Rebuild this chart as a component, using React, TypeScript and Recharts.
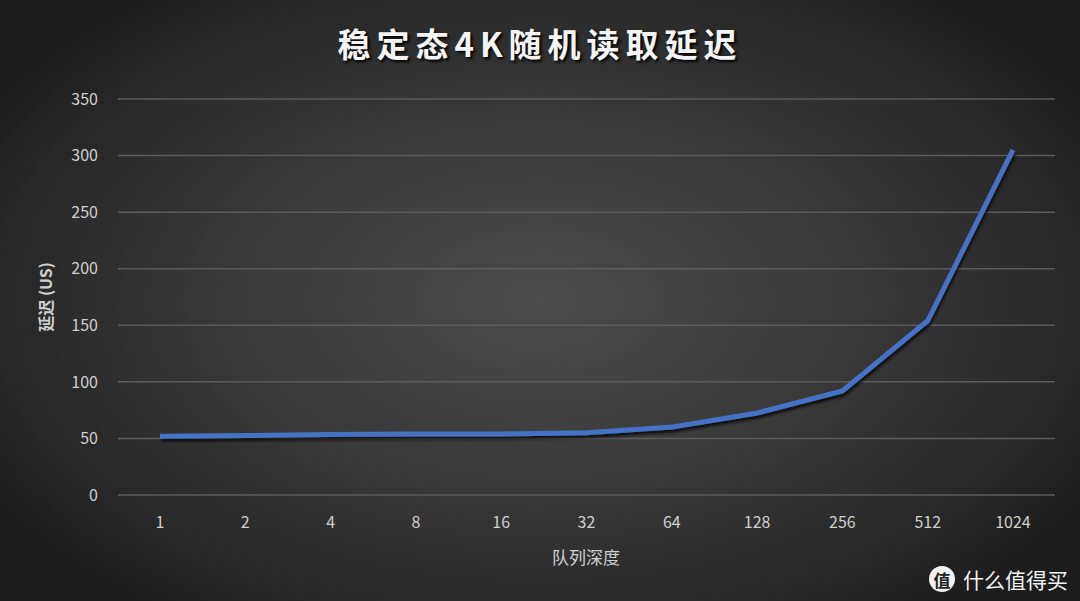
import React from 'react';
import { CartesianGrid, Line, LineChart, XAxis, YAxis } from 'recharts';

// queue depth categories and latency (us)
const queueDepths = ['1', '2', '4', '8', '16', '32', '64', '128', '256', '512', '1024'];
const latencyValues = [52, 52.5, 53.5, 54, 54, 55, 60, 72.5, 92, 154, 305];
const yTicks = [0, 50, 100, 150, 200, 250, 300, 350];

const chartData = queueDepths.map((q, i) => ({ name: q, latency: latencyValues[i] }));

const font = '"Noto Sans CJK SC", "Noto Sans", sans-serif';
const tickStyle = { fill: '#d0d0d0', fontSize: 16, fontFamily: font };

export default function App() {
    return (
        <div
            style={{
                position: 'absolute',
                left: 0,
                top: 0,
                width: 1080,
                height: 601,
                overflow: 'hidden',
                fontFamily: font,
                background:
                    'radial-gradient(ellipse 60% 65% at 50% 50%, #4b4b4b 0%, #3a3a3a 45%, #262626 85%, #1c1c1c 100%)'
            }}
        >
            <svg width={0} height={0} style={{ position: 'absolute' }}>
                <defs>
                    <filter id="lineShadow" x="-10%" y="-10%" width="120%" height="130%">
                        <feDropShadow dx="1" dy="3" stdDeviation="1.5" floodColor="#000" floodOpacity="0.75" />
                    </filter>
                </defs>
            </svg>

            <div
                style={{
                    position: 'absolute',
                    top: 19,
                    left: 0,
                    width: 1080,
                    textAlign: 'center',
                    color: '#f4f4f4',
                    fontSize: 33,
                    fontWeight: 700,
                    letterSpacing: 6,
                    textShadow: '2px 2px 3px #000'
                }}
            >
                稳定态4K随机读取延迟
            </div>

            <LineChart
                width={1080}
                height={601}
                data={chartData}
                margin={{ top: 99, right: 25, bottom: 66, left: 58 }}
                style={{ position: 'absolute', left: 0, top: 0 }}
            >
                <CartesianGrid horizontal vertical={false} stroke="#5c5c5c" strokeWidth={1.5} />
                <XAxis
                    dataKey="name"
                    axisLine={false}
                    tickLine={false}
                    tick={tickStyle}
                    tickMargin={16}
                    height={40}
                    padding={{ left: 42, right: 42 }}
                />
                <YAxis
                    domain={[0, 350]}
                    ticks={yTicks}
                    axisLine={false}
                    tickLine={false}
                    tick={tickStyle}
                    tickMargin={14}
                    width={60}
                />
                <Line
                    type="linear"
                    dataKey="latency"
                    stroke="#4472c4"
                    strokeWidth={5}
                    dot={false}
                    activeDot={false}
                    isAnimationActive={false}
                    style={{ filter: 'url(#lineShadow)' }}
                />
            </LineChart>

            <div
                style={{
                    position: 'absolute',
                    left: 45,
                    top: 297,
                    transform: 'translate(-50%, -50%) rotate(-90deg)',
                    color: '#d0d0d0',
                    fontSize: 16,
                    fontWeight: 700,
                    whiteSpace: 'nowrap'
                }}
            >
                延迟 (US)
            </div>

            <div
                style={{
                    position: 'absolute',
                    left: 586,
                    top: 556,
                    transform: 'translate(-50%, -50%)',
                    color: '#d0d0d0',
                    fontSize: 17,
                    whiteSpace: 'nowrap'
                }}
            >
                队列深度
            </div>

            <div
                style={{
                    position: 'absolute',
                    right: 12,
                    top: 564,
                    display: 'flex',
                    alignItems: 'center',
                    gap: 8,
                    color: '#f2f2f2',
                    fontSize: 21
                }}
            >
                <span
                    style={{
                        width: 26,
                        height: 26,
                        borderRadius: '50%',
                        background: '#f2f2f2',
                        color: '#222',
                        fontSize: 17,
                        fontWeight: 700,
                        display: 'flex',
                        alignItems: 'center',
                        justifyContent: 'center'
                    }}
                >
                    值
                </span>
                <span>什么值得买</span>
            </div>
        </div>
    );
}
